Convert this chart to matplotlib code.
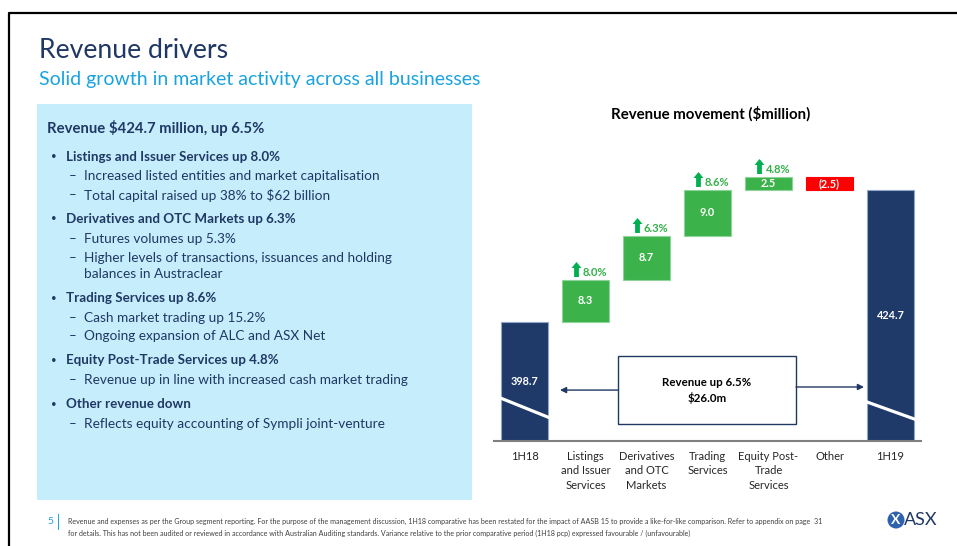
import matplotlib
matplotlib.use("Agg")
import matplotlib.pyplot as plt
from matplotlib.path import Path
from matplotlib.patches import Rectangle, Circle
from matplotlib.transforms import offset_copy, blended_transform_factory

plt.rcParams['font.family'] = ['Lato', 'DejaVu Sans']

# ---------------- data ----------------
categories = ["1H18", "Listings\nand Issuer\nServices", "Derivatives\nand OTC\nMarkets",
              "Trading\nServices", "Equity Post-\nTrade\nServices", "Other", "1H19"]
start_total = 398.7
end_total = 424.7
changes = [8.3, 8.7, 9.0, 2.5, -2.5]
change_labels = ["8.3", "8.7", "9.0", "2.5", "(2.5)"]
pct_labels = ["8.0%", "6.3%", "8.6%", "4.8%", None]
total_labels = ["398.7", "424.7"]

title = "Revenue drivers"
subtitle = "Solid growth in market activity across all businesses"
chart_title = "Revenue movement ($million)"
box_head = "Revenue $424.7 million, up 6.5%"
bullets = [
    ("Listings and Issuer Services up 8.0%",
     [["Increased listed entities and market capitalisation"],
      ["Total capital raised up 38% to $62 billion"]]),
    ("Derivatives and OTC Markets up 6.3%",
     [["Futures volumes up 5.3%"],
      ["Higher levels of transactions, issuances and holding", "balances in Austraclear"]]),
    ("Trading Services up 8.6%",
     [["Cash market trading up 15.2%"],
      ["Ongoing expansion of ALC and ASX Net"]]),
    ("Equity Post-Trade Services up 4.8%",
     [["Revenue up in line with increased cash market trading"]]),
    ("Other revenue down",
     [["Reflects equity accounting of Sympli joint-venture"]]),
]
callout_text = "Revenue up 6.5%\n$26.0m"
footer1 = ("Revenue and expenses as per the Group segment reporting. For the purpose of the management discussion, "
           "1H18 comparative has been restated for the impact of AASB 15 to provide a like-for-like comparison. "
           "Refer to appendix on page  31")
footer2 = ("for details. This has not been audited or reviewed in accordance with Australian Auditing standards. "
           "Variance relative to the prior comparative period (1H18 pcp) expressed favourable / (unfavourable)")
page_no = "5"

NAVY = '#1F3864'
BAR_NAVY = '#1F3A68'
GREEN = '#3BB34A'
RED = '#FF0000'
LIGHTBLUE = '#19A3E0'

fig = plt.figure(figsize=(9.57, 5.46), dpi=100)
W, H = 957, 546

# background / slide layer in pixel coordinates
bg = fig.add_axes([0, 0, 1, 1])
bg.set_xlim(0, W)
bg.set_ylim(H, 0)
bg.axis('off')

bg.plot([8.5, 8.5, W], [H, 12.5, 12.5], color='black', lw=1.6, solid_capstyle='butt')

bg.text(39, 50, title, fontsize=19.2, color=NAVY, va='center', ha='left')
bg.text(39, 80, subtitle, fontsize=14, color=LIGHTBLUE, va='center', ha='left')

bg.add_patch(Rectangle((37, 104), 435, 396, facecolor='#C6EDFC', edgecolor='none'))
bg.text(47, 128, box_head, fontsize=10.7, fontweight='bold', color=NAVY, va='center')

bullet_y = [157, 219, 298, 360, 404]
sub_y = [[[176], [195]], [[239], [258, 274]], [[318], [336]], [[380]], [[424]]]
for (head, subs), by, sys in zip(bullets, bullet_y, sub_y):
    bg.text(51, by, "\u2022", fontsize=7, color=NAVY, va='center')
    bg.text(66, by, head, fontsize=9.65, fontweight='bold', color=NAVY, va='center')
    for lines, ys in zip(subs, sys):
        bg.text(69, ys[0], "\u2013", fontsize=9.6, color=NAVY, va='center')
        for ln, yy in zip(lines, ys):
            bg.text(84, yy, ln, fontsize=9.8, color=NAVY, va='center')

bg.text(711, 114, chart_title, fontsize=10.8, fontweight='bold', color='black', ha='center', va='center')

# footer
bg.text(50, 521, page_no, fontsize=7.5, color=LIGHTBLUE, va='center', ha='center')
bg.plot([58, 58], [514, 529], color=LIGHTBLUE, lw=0.7)
bg.text(68, 521, footer1, fontsize=5.1, color='#404040', va='center', ha='left')
bg.text(68, 533, footer2, fontsize=5.1, color='#404040', va='center', ha='left')

# ASX logo
bg.add_patch(Circle((896, 520), 8.5, facecolor='#2F62AE', edgecolor='none'))
bg.text(896, 520.5, "X", fontsize=10, fontweight='bold', color='white', ha='center', va='center')
bg.text(904, 520, "ASX", fontsize=13, color=NAVY, ha='left', va='center')

# ---------------- waterfall ----------------
ax = fig.add_axes([494 / W, 1 - 441 / H, 427 / W, 291 / H])
ax.set_facecolor('none')
ymin = 375.26
ax.set_ylim(ymin, 432.58)
ax.set_xlim(-0.5, 6.5)
bw = 0.77

xs = list(range(len(categories)))
# totals
ax.bar([xs[0], xs[-1]], [start_total, end_total], width=bw, color=BAR_NAVY,
       edgecolor='#8FA6CF', linewidth=0.8, zorder=2)
for x, val, lab in zip([xs[0], xs[-1]], [start_total, end_total], total_labels):
    ax.text(x, (ymin + val) / 2, lab, color='white', fontsize=7.8, fontweight='bold',
            ha='center', va='center', zorder=4)

# changes
level = start_total
for i, (c, lab, pct) in enumerate(zip(changes, change_labels, pct_labels)):
    x = xs[i + 1]
    bottom = level if c >= 0 else level + c
    color = GREEN if c >= 0 else RED
    ec = '#8FD39A' if c >= 0 else RED
    ax.bar(x, abs(c), bottom=bottom, width=bw, color=color, edgecolor=ec, linewidth=0.8, zorder=2)
    ax.text(x, bottom + abs(c) / 2, lab, color='white', fontsize=7.8, fontweight='bold',
            ha='center', va='center', zorder=4)
    level += c
    if pct is not None:
        top = bottom + abs(c)
        arrow = Path([(-0.33, 0.1), (0, 0.5), (0.33, 0.1), (0.16, 0.1), (0.16, -0.5),
                      (-0.16, -0.5), (-0.16, 0.1), (-0.33, 0.1)],
                     [Path.MOVETO] + [Path.LINETO] * 6 + [Path.CLOSEPOLY])
        tr = offset_copy(ax.transData, fig=fig, x=-9.5, y=11, units='dots')
        ax.plot([x], [top], marker=arrow, ms=10.8, color='#00B050', mec='none',
                transform=tr, clip_on=False, zorder=4)
        tr2 = offset_copy(ax.transData, fig=fig, x=-2.5, y=7.5, units='dots')
        ax.text(x, top, pct, transform=tr2, fontsize=8, fontweight='bold', color='#33B04A',
                ha='left', va='center', clip_on=False)

# axis-break marks on total bars
bt = blended_transform_factory(ax.transData, ax.transAxes)
ax.plot([xs[0] - bw / 2, xs[0] + bw / 2], [0.147, 0.082], color='white', lw=2.3, transform=bt, zorder=3)
ax.plot([xs[-1] - bw / 2, xs[-1] + bw / 2], [0.134, 0.076], color='white', lw=2.3, transform=bt, zorder=3)

# callout box
ax.add_patch(Rectangle((0.2904, 0.0584), 0.4169, 0.2336, transform=ax.transAxes,
                       facecolor='white', edgecolor=NAVY, lw=1.0, zorder=5))
ax.text(0.4987, 0.173, callout_text, transform=ax.transAxes, ha='center', va='center',
        fontsize=8.3, fontweight='bold', color='black', linespacing=1.45, zorder=6)
ax.annotate('', xy=(0.1546, 0.175), xytext=(0.2904, 0.175), xycoords='axes fraction',
            arrowprops=dict(arrowstyle='-|>', color=NAVY, lw=1.0, mutation_scale=9,
                            shrinkA=0, shrinkB=0), zorder=6)
ax.annotate('', xy=(0.8665, 0.1856), xytext=(0.7073, 0.1856), xycoords='axes fraction',
            arrowprops=dict(arrowstyle='-|>', color=NAVY, lw=1.0, mutation_scale=9,
                            shrinkA=0, shrinkB=0), zorder=6)

for s in ['top', 'right', 'left']:
    ax.spines[s].set_visible(False)
ax.spines['bottom'].set_color('#808080')
ax.spines['bottom'].set_linewidth(1.5)
ax.spines['bottom'].set_zorder(3)
ax.set_yticks([])
ax.set_xticks(xs)
ax.set_xticklabels(categories, fontsize=8, color='#262626', linespacing=1.4, va='top')
ax.tick_params(axis='x', length=0, pad=7)

fig.savefig('out.png', dpi=100)
